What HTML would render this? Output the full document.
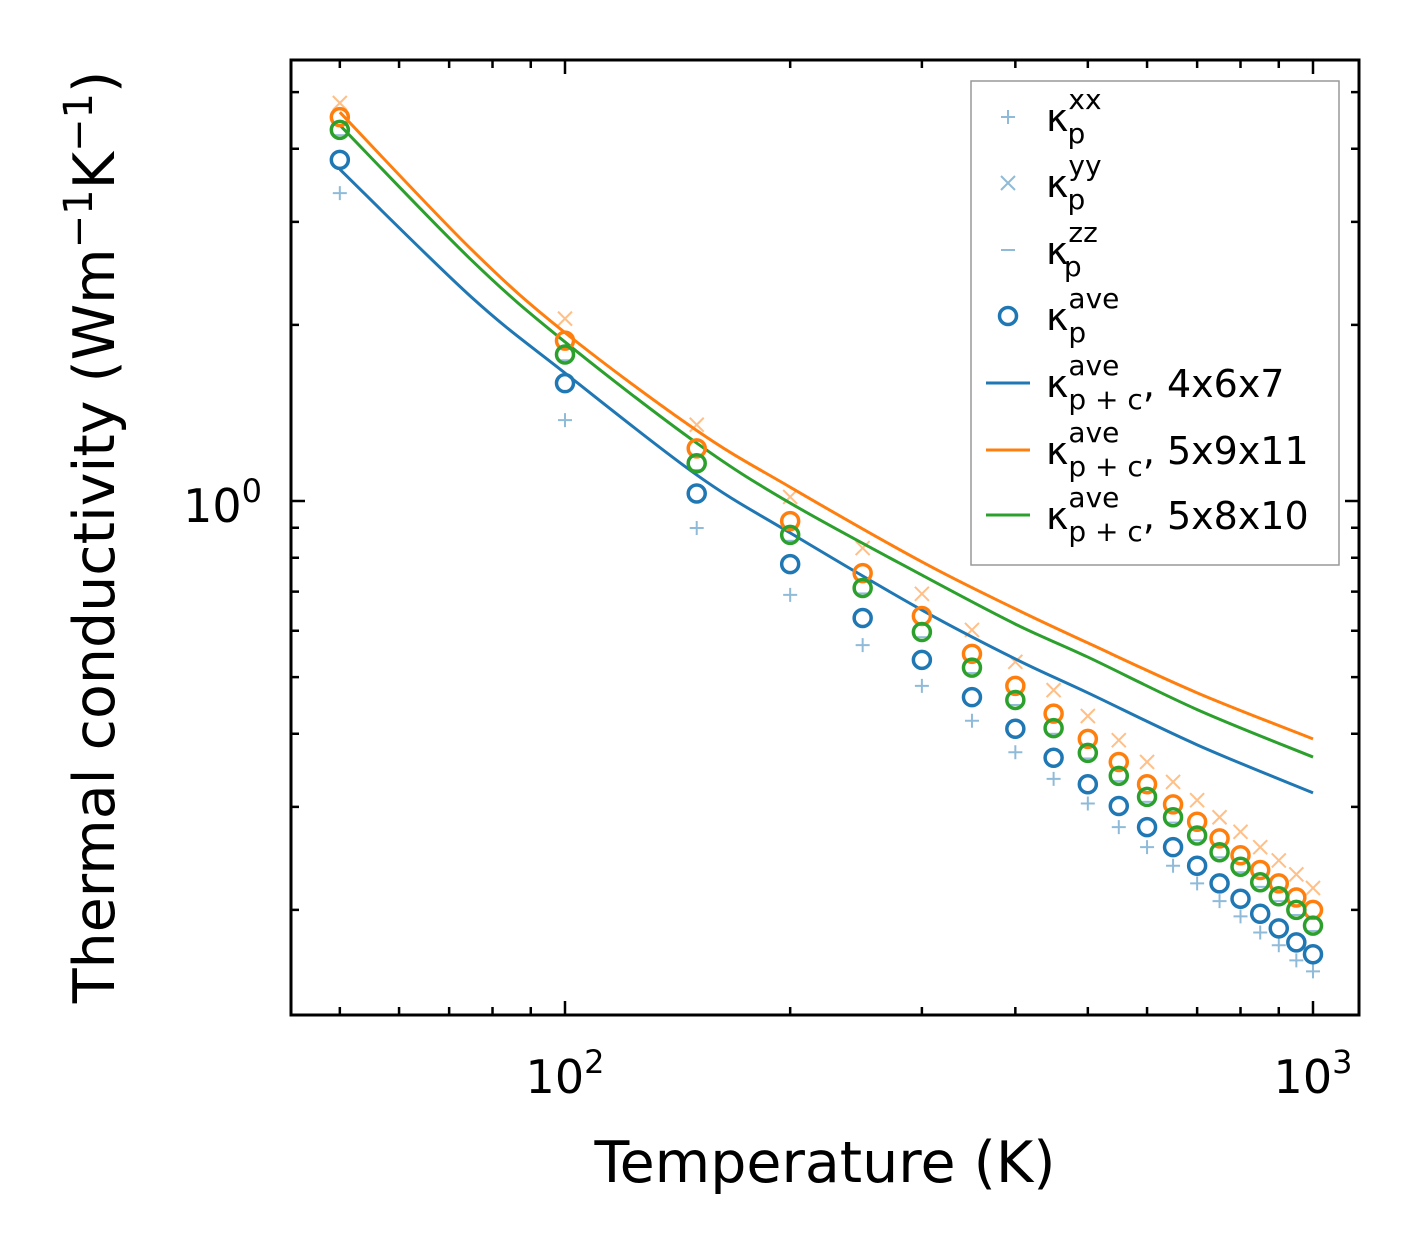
<!DOCTYPE html>
<html><head><meta charset="utf-8"><style>
body{margin:0;background:#fff;}
svg text{font-family:"DejaVu Sans","Liberation Sans",sans-serif;}
</style></head><body>
<svg id="chart" width="1421" height="1254" xmlns="http://www.w3.org/2000/svg">
<rect width="1421" height="1254" fill="#fff"/>
<g id="marks"></g>
<rect x="291" y="60" width="1068" height="955" fill="none" stroke="#000" stroke-width="3"/>
<g id="ticks"></g>
<text x="825" y="1182" font-size="57" text-anchor="middle">Temperature (K)</text>
<text transform="translate(114,537) rotate(-90)" font-size="57" text-anchor="middle">Thermal conductivity (Wm<tspan dy="-22" font-size="40">−1</tspan><tspan dy="22">K</tspan><tspan dy="-22" font-size="40">−1</tspan><tspan dy="22">)</tspan></text>
<g>
<rect x="971" y="81" width="368" height="484" fill="#fff" stroke="#999" stroke-width="1.5"/>
<g id="legend"></g>
</g>
</svg>
<script>
const temps=[50,100,150,200,250,300,350,400,450,500,550,600,650,700,750,800,850,900,950,1000];
const aveA=[3.83,1.59,1.03,0.78,0.631,0.535,0.462,0.408,0.364,0.328,0.301,0.277,0.256,0.238,0.222,0.209,0.197,0.186,0.176,0.168];
const aveB=[4.53,1.88,1.23,0.924,0.753,0.636,0.548,0.483,0.433,0.392,0.358,0.328,0.303,0.283,0.265,0.248,0.234,0.222,0.210,0.200];
const aveC=[4.31,1.78,1.16,0.875,0.710,0.597,0.519,0.457,0.409,0.371,0.339,0.312,0.288,0.268,0.251,0.237,0.223,0.211,0.200,0.188];
const kxx=[3.36,1.375,0.899,0.691,0.567,0.483,0.421,0.372,0.335,0.304,0.277,0.256,0.238,0.222,0.207,0.195,0.183,0.174,0.164,0.157];
const kyy=[4.79,2.05,1.35,1.016,0.831,0.694,0.602,0.531,0.475,0.429,0.390,0.358,0.331,0.308,0.288,0.272,0.256,0.243,0.230,0.218];
const kzz=[4.22,1.74,1.13,0.855,0.695,0.585,0.508,0.448,0.400,0.363,0.332,0.306,0.282,0.263,0.246,0.232,0.219,0.207,0.196,0.184];
const lineT=[50,75,100,150,200,300,400,500,700,1000];
const lineA=[3.69,2.23,1.655,1.108,0.882,0.651,0.537,0.470,0.383,0.317];
const lineB=[4.62,2.69,1.94,1.32,1.056,0.787,0.654,0.572,0.470,0.392];
const lineC=[4.39,2.58,1.87,1.256,0.992,0.747,0.616,0.541,0.440,0.365];
const xTickLabels=["10","10"],xTickExp=["2","3"],xTickVals=[100,1000];
const NS="http://www.w3.org/2000/svg";
const X=v=>565+(Math.log10(v)-2)*748;
const Y=v=>501-Math.log10(v)*585;
function mk(t,a,p){const e=document.createElementNS(NS,t);for(const k in a)e.setAttribute(k,a[k]);(p||document.getElementById('marks')).appendChild(e);return e;}
const blue="#1f77b4",orange="#ff7f0e",green="#2ca02c";
temps.forEach((t,i)=>{
  const x=X(t);
  let y=Y(kxx[i]);
  let e=mk('path',{d:`M${x-7},${y}h14M${x},${y-7}v14`,stroke:blue,'stroke-opacity':0.5,'stroke-width':2});
  
  y=Y(kyy[i]);
  e=mk('path',{d:`M${x-7},${y-7}l14,14M${x+7},${y-7}l-14,14`,stroke:orange,'stroke-opacity':0.5,'stroke-width':2});
  
  y=Y(kzz[i]);
  e=mk('path',{d:`M${x-7},${y}h14`,stroke:blue,'stroke-opacity':0.5,'stroke-width':2});
  
});
function line(T,V,c,n){
  const P=T.map((t,i)=>[X(t),Y(V[i])]);
  let d='M'+P[0][0]+','+P[0][1];
  for(let i=0;i<P.length-1;i++){
    const p0=P[Math.max(0,i-1)],p1=P[i],p2=P[i+1],p3=P[Math.min(P.length-1,i+2)];
    const c1=[p1[0]+(p2[0]-p0[0])/6,p1[1]+(p2[1]-p0[1])/6],c2=[p2[0]-(p3[0]-p1[0])/6,p2[1]-(p3[1]-p1[1])/6];
    d+=`C${c1[0]},${c1[1]} ${c2[0]},${c2[1]} ${p2[0]},${p2[1]}`;
  }
  const e=mk('path',{d:d,fill:'none',stroke:c,'stroke-width':3,'stroke-linejoin':'round'});
  }
line(lineT,lineA,blue,'line-4x6x7');line(lineT,lineB,orange,'line-5x9x11');line(lineT,lineC,green,'line-5x8x10');
function circ(V,c,n){temps.forEach((t,i)=>{const e=mk('circle',{cx:X(t),cy:Y(V[i]),r:8.5,fill:'none',stroke:c,'stroke-width':3.5});
});}
circ(aveA,blue,'ave-4x6x7-point');circ(aveB,orange,'ave-5x9x11-point');circ(aveC,green,'ave-5x8x10-point');
const tk=document.getElementById('ticks');
function tick(d,n){const e=mk('path',{d:d,stroke:'#000','stroke-width':2.5},tk);}
for(let d=1;d<=3;d++)for(let k=1;k<10;k++){const v=k*Math.pow(10,d);const x=X(v);if(x<292||x>1358)continue;const L=k==1?14:8;
 tick(`M${x},1015v-${L}M${x},60v${L}`,k==1?'x-major-tick':'x-minor-tick');}
for(let d=-1;d<=0;d++)for(let k=1;k<10;k++){const v=k*Math.pow(10,d);const y=Y(v);if(y<61||y>1014)continue;const L=k==1?14:8;
 tick(`M291,${y}h${L}M1359,${y}h-${L}`,k==1?'y-major-tick':'y-minor-tick');}
xTickVals.forEach((v,i)=>{const t=mk('text',{x:X(v),y:1093,'font-size':46,'text-anchor':'middle'},tk);

t.innerHTML=xTickLabels[i]+'<tspan dy="-20" font-size="32">'+xTickExp[i]+'</tspan>';});
const yl=mk('text',{x:262,y:522,'font-size':46,'text-anchor':'end'},tk);

yl.innerHTML='10<tspan dy="-20" font-size="32">0</tspan>';
const lg=document.getElementById('legend');
const entries=[['xx','p',''],['yy','p',''],['zz','p',''],['ave','p',''],['ave','p + c',', 4x6x7'],['ave','p + c',', 5x9x11'],['ave','p + c',', 5x8x10']];
const ys=[117,183,250,316,383,450,515];
entries.forEach((en,i)=>{const y=ys[i],x=1008;let e;
 if(i==0)e=mk('path',{d:`M${x-7},${y}h14M${x},${y-7}v14`,stroke:blue,'stroke-opacity':0.5,'stroke-width':2},lg);
 else if(i==1)e=mk('path',{d:`M${x-7},${y-7}l14,14M${x+7},${y-7}l-14,14`,stroke:blue,'stroke-opacity':0.5,'stroke-width':2},lg);
 else if(i==2)e=mk('path',{d:`M${x-7},${y}h14`,stroke:blue,'stroke-opacity':0.5,'stroke-width':2},lg);
 else if(i==3)e=mk('circle',{cx:x,cy:y,r:8.5,fill:'none',stroke:blue,'stroke-width':3.5},lg);
 else e=mk('path',{d:`M${x-22},${y}h44`,stroke:[blue,orange,green][i-4],'stroke-width':3},lg);
 
 const t=mk('text',{x:1046,y:y+14,'font-size':38},lg);
 
 t.innerHTML='κ<tspan font-size="28" dy="-22">'+en[0]+'</tspan><tspan font-size="28" dx="-'+(en[0].length*17)+'" dy="34">'+en[1]+'</tspan><tspan dy="-12">'+en[2]+'</tspan>';
});
</script>
</body></html>
